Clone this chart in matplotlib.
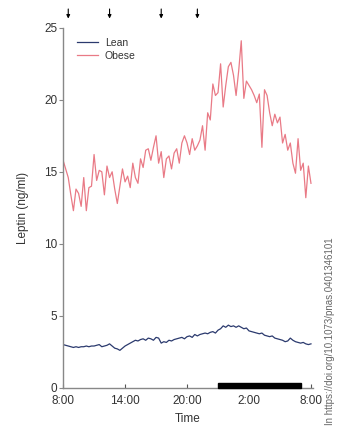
import matplotlib
matplotlib.use("Agg")
import matplotlib.pyplot as plt
import numpy as np
from matplotlib.patches import Rectangle

plt.rcParams['font.family'] = ['Liberation Sans', 'DejaVu Sans']

# hours since 8:00, sampled every 15 minutes
obese = [
    15.8, 15.2, 14.6, 13.4,
    12.3, 13.8, 13.5, 12.6,
    14.6, 12.3, 13.9, 14.0,
    16.2, 14.4, 15.1, 15.0,
    13.4, 15.4, 14.6, 15.0,
    13.8, 12.8, 14.0, 15.2,
    14.3, 14.7, 13.9, 15.6,
    14.6, 14.2, 15.9, 15.3,
    16.5, 16.6, 15.8, 16.7,
    17.5, 15.6, 16.4, 14.6,
    15.9, 16.1, 15.2, 16.3,
    16.6, 15.6, 17.0, 17.5,
    17.0, 16.2, 17.3, 16.5,
    16.8, 17.2, 18.2, 16.5,
    19.1, 18.6, 21.1, 20.3,
    20.5, 22.5, 19.5, 21.0,
    22.3, 22.6, 21.7, 20.3,
    22.0, 24.1, 20.1, 21.3,
    21.0, 20.7, 20.3, 19.8,
    20.4, 16.7, 20.7, 20.3,
    19.1, 18.2, 19.0, 18.4,
    18.8, 17.0, 17.6, 16.5,
    17.0, 15.6, 14.9, 17.3,
    15.1, 15.6, 13.2, 15.4,
    14.2,
]
lean = [
    3.0, 2.95, 2.9, 2.85,
    2.8, 2.85, 2.8, 2.85,
    2.85, 2.9, 2.85, 2.9,
    2.9, 2.95, 3.0, 2.85,
    2.9, 2.95, 3.05, 2.9,
    2.75, 2.7, 2.6, 2.75,
    2.9, 3.0, 3.1, 3.2,
    3.3, 3.25, 3.35, 3.4,
    3.3, 3.45, 3.4, 3.3,
    3.5, 3.45, 3.1, 3.2,
    3.15, 3.3, 3.25, 3.35,
    3.4, 3.45, 3.5, 3.4,
    3.55, 3.6, 3.5, 3.7,
    3.6, 3.7, 3.75, 3.8,
    3.75, 3.85, 3.9, 3.8,
    4.0, 4.1, 4.3, 4.2,
    4.35, 4.25, 4.3, 4.2,
    4.3, 4.2, 4.1, 4.15,
    3.95, 3.9, 3.85, 3.8,
    3.75, 3.8, 3.65, 3.6,
    3.55, 3.6, 3.45, 3.4,
    3.35, 3.3, 3.2, 3.25,
    3.45, 3.3, 3.2, 3.15,
    3.1, 3.15, 3.05, 3.0,
    3.05,
]
time_h = [8 + 0.25 * i for i in range(len(obese))]

tick_pos = [8, 14, 20, 26, 32]
tick_labels = ['8:00', '14:00', '20:00', '2:00', '8:00']
meal_times = [8.5, 12.5, 17.5, 21.0]
sleep_start, sleep_end = 23, 31

fig = plt.figure(figsize=(3.41, 4.28), dpi=100)
ax = fig.add_axes([0.185, 0.094, 0.733, 0.841])

ax.plot(time_h, lean, color='#2b3a6e', lw=0.9, label='Lean')
ax.plot(time_h, obese, color='#e97a86', lw=0.9, label='Obese')

ax.set_xlim(8, 32.2)
ax.set_ylim(0, 25)
ax.set_yticks([0, 5, 10, 15, 20, 25])
ax.set_xticks(tick_pos)
ax.set_xticklabels(tick_labels)

for s in ['top', 'right']:
    ax.spines[s].set_visible(False)
for s in ['left', 'bottom']:
    ax.spines[s].set_color('#888888')
    ax.spines[s].set_linewidth(1.0)

ax.tick_params(axis='y', direction='out', length=3, color='#888888',
               labelsize=8.5, labelcolor='#333333', pad=1)
ax.tick_params(axis='x', direction='in', length=3, color='#555555',
               labelsize=8.5, labelcolor='#333333', pad=5.5)

ax.set_ylabel('Leptin (ng/ml)', fontsize=8.5, color='#333333', labelpad=11)
ax.set_xlabel('Time', fontsize=8.5, color='#333333', labelpad=4)

ax.add_patch(Rectangle((sleep_start, 0), sleep_end - sleep_start, 0.3,
                       color='black', clip_on=False, zorder=5))

for t in meal_times:
    ax.annotate('', xy=(t, 1.018), xytext=(t, 1.06),
                xycoords=('data', 'axes fraction'),
                textcoords=('data', 'axes fraction'),
                arrowprops=dict(arrowstyle='-|>', color='black', lw=0.8,
                                mutation_scale=5))

leg = ax.legend(loc='upper left', bbox_to_anchor=(0.03, 0.99), frameon=False,
                fontsize=7.5, handlelength=2.0, handletextpad=0.7,
                labelspacing=0.3, borderaxespad=0.2)
for t in leg.get_texts():
    t.set_color('#333333')

fig.text(0.968, 0.008, 'In https://doi.org/10.1073/pnas.0401346101', rotation=90,
         fontsize=7, color='#666666', ha='center', va='bottom')

fig.savefig('out.png', dpi=100)
